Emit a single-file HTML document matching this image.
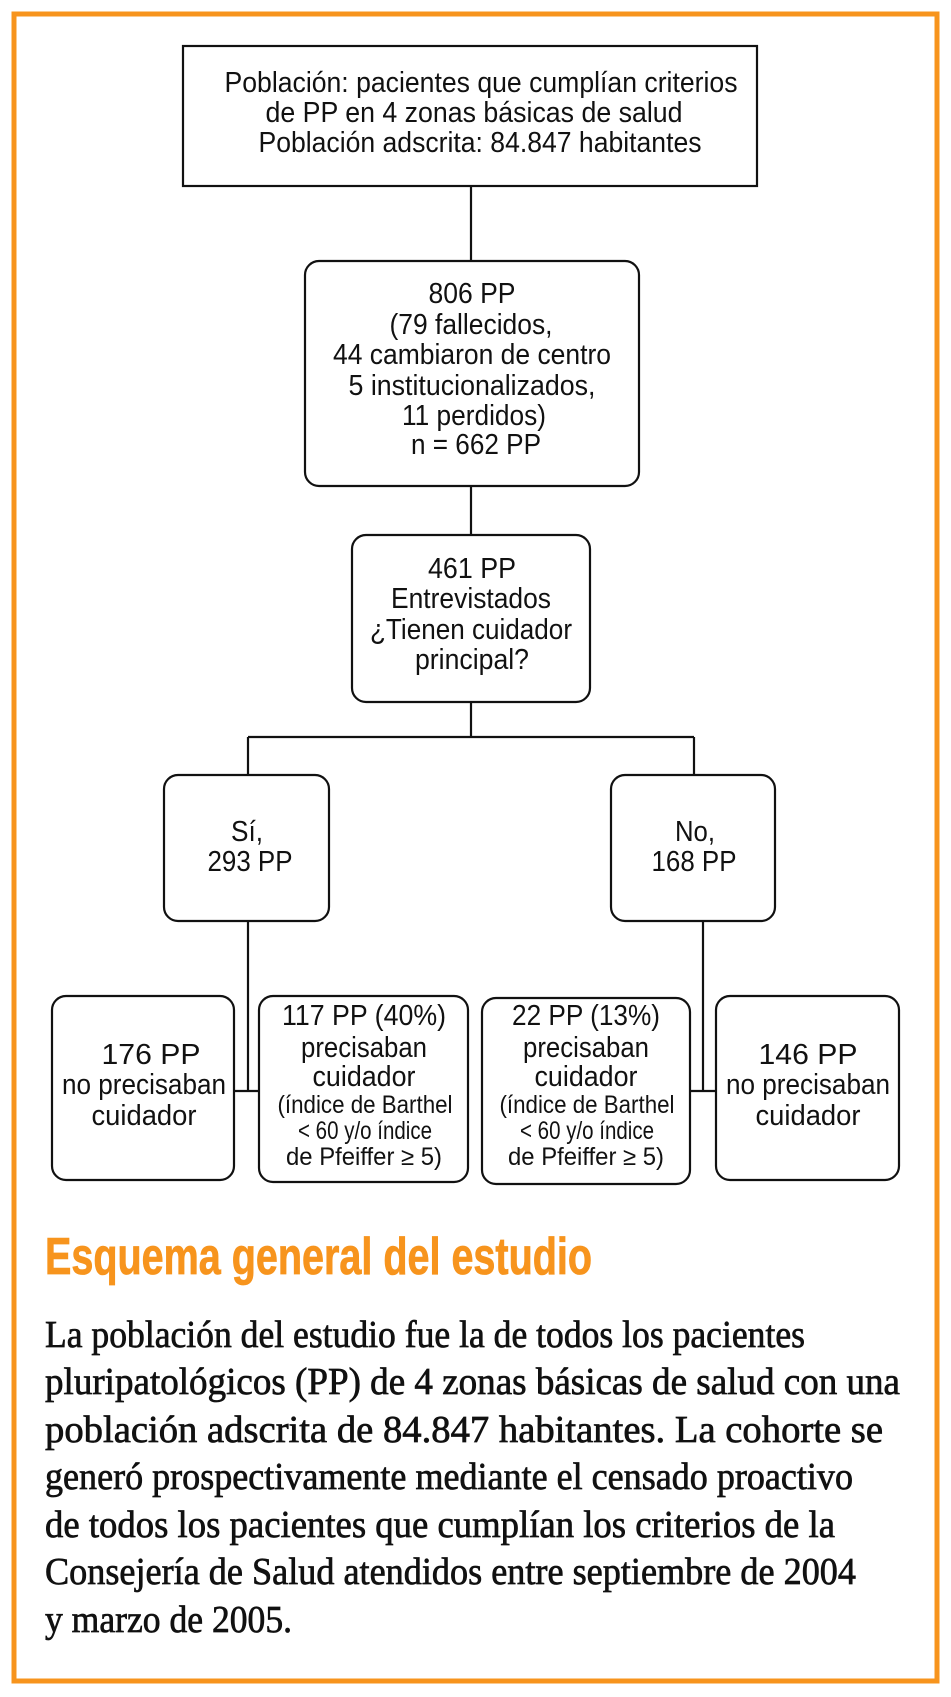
<!DOCTYPE html>
<html><head><meta charset="utf-8"><style>
html,body{margin:0;padding:0;background:#fff}
svg{display:block}
.d{font-family:"Liberation Sans Narrow","Liberation Sans",sans-serif;font-size:29px;fill:#111}
.s{font-size:25px}
.p{font-family:"Liberation Serif",serif;font-size:38px;fill:#111;stroke:#111;stroke-width:0.7}
</style></head><body>
<svg width="951" height="1697" viewBox="0 0 951 1697" xmlns="http://www.w3.org/2000/svg">
<rect x="14" y="14" width="923" height="1667" fill="none" stroke="#f7941d" stroke-width="5"/>
<g fill="none" stroke="#111" stroke-width="2.2">
<rect x="183" y="46" width="574" height="140"/>
<rect x="305" y="261" width="334" height="225" rx="14"/>
<rect x="352" y="535" width="238" height="167" rx="14"/>
<rect x="164" y="775" width="165" height="146" rx="14"/>
<rect x="611" y="775" width="164" height="146" rx="14"/>
<rect x="52" y="996" width="182" height="184" rx="14"/>
<rect x="259" y="996" width="209" height="186" rx="14"/>
<rect x="482" y="998" width="208" height="186" rx="14"/>
<rect x="716" y="996" width="183" height="184" rx="14"/>
<path d="M471 186V261M471 486V535M471 702V737M248 737H694M248 737V775M694 737V775M248 921V1091M234 1091H259M703 921V1091M690 1091H716"/>
</g>
<g class="d" text-anchor="middle" dominant-baseline="central">
<text x="481" y="83" textLength="513" lengthAdjust="spacingAndGlyphs">Población: pacientes que cumplían criterios</text>
<text x="474" y="113" textLength="417" lengthAdjust="spacingAndGlyphs">de PP en 4 zonas básicas de salud</text>
<text x="480" y="143" textLength="443" lengthAdjust="spacingAndGlyphs">Población adscrita: 84.847 habitantes</text>

<text x="472" y="294" textLength="87" lengthAdjust="spacingAndGlyphs">806 PP</text>
<text x="471" y="325" textLength="163" lengthAdjust="spacingAndGlyphs">(79 fallecidos,</text>
<text x="472" y="355" textLength="278" lengthAdjust="spacingAndGlyphs">44 cambiaron de centro</text>
<text x="472" y="386" textLength="247" lengthAdjust="spacingAndGlyphs">5 institucionalizados,</text>
<text x="474" y="416" textLength="144" lengthAdjust="spacingAndGlyphs">11 perdidos)</text>
<text x="476" y="445" textLength="130" lengthAdjust="spacingAndGlyphs">n = 662 PP</text>

<text x="472" y="569" textLength="88" lengthAdjust="spacingAndGlyphs">461 PP</text>
<text x="471" y="599" textLength="160" lengthAdjust="spacingAndGlyphs">Entrevistados</text>
<text x="471" y="630" textLength="202" lengthAdjust="spacingAndGlyphs">¿Tienen cuidador</text>
<text x="472" y="660" textLength="114" lengthAdjust="spacingAndGlyphs">principal?</text>

<text x="247" y="832" textLength="32" lengthAdjust="spacingAndGlyphs">Sí,</text>
<text x="250" y="862" textLength="85" lengthAdjust="spacingAndGlyphs">293 PP</text>
<text x="695" y="832" textLength="40" lengthAdjust="spacingAndGlyphs">No,</text>
<text x="694" y="862" textLength="85" lengthAdjust="spacingAndGlyphs">168 PP</text>

<text x="151" y="1055" textLength="99" lengthAdjust="spacingAndGlyphs">176 PP</text>
<text x="144" y="1085" textLength="164" lengthAdjust="spacingAndGlyphs">no precisaban</text>
<text x="144" y="1116" textLength="105" lengthAdjust="spacingAndGlyphs">cuidador</text>

<text x="364" y="1016" textLength="164" lengthAdjust="spacingAndGlyphs">117 PP (40%)</text>
<text x="364" y="1048" textLength="126" lengthAdjust="spacingAndGlyphs">precisaban</text>
<text x="364" y="1077" textLength="103" lengthAdjust="spacingAndGlyphs">cuidador</text>
<text class="d s" x="365" y="1105" textLength="175" lengthAdjust="spacingAndGlyphs">(índice de Barthel</text>
<text class="d s" x="365" y="1131" textLength="134" lengthAdjust="spacingAndGlyphs">&lt; 60 y/o índice</text>
<text class="d s" x="364" y="1157" textLength="156" lengthAdjust="spacingAndGlyphs">de Pfeiffer ≥ 5)</text>

<text x="586" y="1016" textLength="148" lengthAdjust="spacingAndGlyphs">22 PP (13%)</text>
<text x="586" y="1048" textLength="126" lengthAdjust="spacingAndGlyphs">precisaban</text>
<text x="586" y="1077" textLength="103" lengthAdjust="spacingAndGlyphs">cuidador</text>
<text class="d s" x="587" y="1105" textLength="175" lengthAdjust="spacingAndGlyphs">(índice de Barthel</text>
<text class="d s" x="587" y="1131" textLength="134" lengthAdjust="spacingAndGlyphs">&lt; 60 y/o índice</text>
<text class="d s" x="586" y="1157" textLength="156" lengthAdjust="spacingAndGlyphs">de Pfeiffer ≥ 5)</text>

<text x="808" y="1055" textLength="99" lengthAdjust="spacingAndGlyphs">146 PP</text>
<text x="808" y="1085" textLength="164" lengthAdjust="spacingAndGlyphs">no precisaban</text>
<text x="808" y="1116" textLength="105" lengthAdjust="spacingAndGlyphs">cuidador</text>
</g>
<text x="45" y="1274" font-family="Liberation Sans Narrow, Liberation Sans, sans-serif" font-weight="bold" font-size="52" fill="#f7941d" stroke="#f7941d" stroke-width="0.8" textLength="547" lengthAdjust="spacingAndGlyphs">Esquema general del estudio</text>
<g class="p">
<text x="45" y="1347" textLength="760" lengthAdjust="spacingAndGlyphs">La población del estudio fue la de todos los pacientes</text>
<text x="45" y="1394" textLength="855" lengthAdjust="spacingAndGlyphs">pluripatológicos (PP) de 4 zonas básicas de salud con una</text>
<text x="45" y="1442" textLength="838" lengthAdjust="spacingAndGlyphs">población adscrita de 84.847 habitantes. La cohorte se</text>
<text x="45" y="1489" textLength="808" lengthAdjust="spacingAndGlyphs">generó prospectivamente mediante el censado proactivo</text>
<text x="45" y="1537" textLength="790" lengthAdjust="spacingAndGlyphs">de todos los pacientes que cumplían los criterios de la</text>
<text x="45" y="1584" textLength="811" lengthAdjust="spacingAndGlyphs">Consejería de Salud atendidos entre septiembre de 2004</text>
<text x="45" y="1632" textLength="247" lengthAdjust="spacingAndGlyphs">y marzo de 2005.</text>
</g>
</svg>
</body></html>
